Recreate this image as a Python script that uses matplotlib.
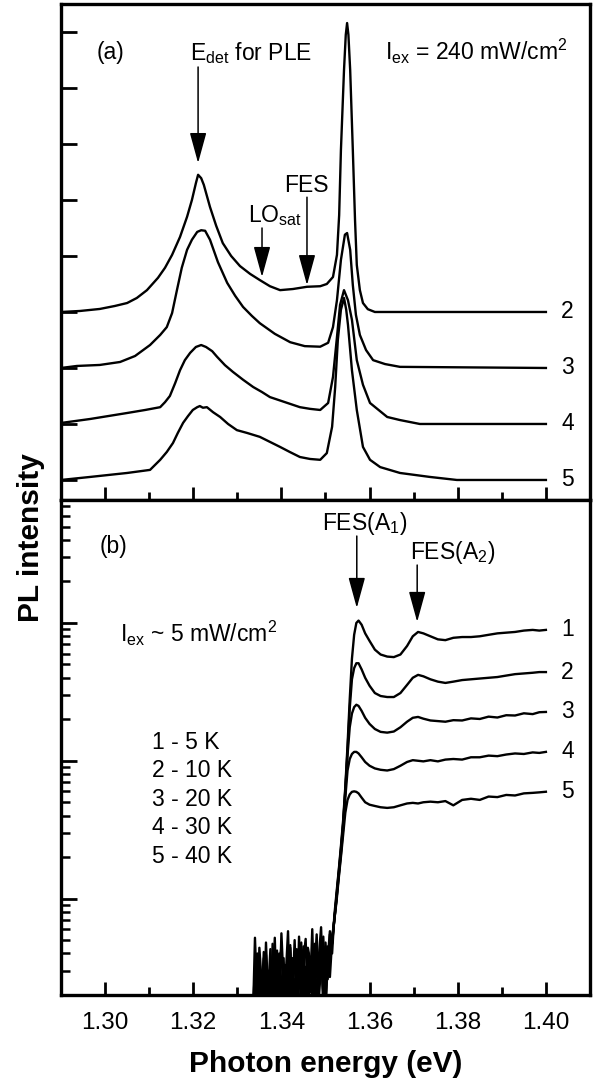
import matplotlib
matplotlib.use("Agg")
import matplotlib.pyplot as plt
from matplotlib.ticker import MultipleLocator, LogLocator, NullFormatter

plt.rcParams['font.family'] = ['Liberation Sans', 'DejaVu Sans']
plt.rcParams['mathtext.fontset'] = 'custom'
plt.rcParams['mathtext.rm'] = 'Liberation Sans'
plt.rcParams['mathtext.it'] = 'Liberation Sans:italic'
plt.rcParams['mathtext.bf'] = 'Liberation Sans:bold'

# ---- panel (a): PL spectra, I_ex = 240 mW/cm^2, offset by one unit each ----
a_labels = ['2', '3', '4', '5']
a_offsets = [3, 2, 1, 0]

a_x_2 = [1.2900, 1.2943, 1.2988, 1.3022, 1.3050, 1.3072, 1.3095, 1.3120, 1.3136, 1.3152,
         1.3170, 1.3186, 1.3197, 1.3206, 1.3211, 1.3218, 1.3224, 1.3238, 1.3252, 1.3267,
         1.3286, 1.3306, 1.3329, 1.3351, 1.3374, 1.3397, 1.3426, 1.3458, 1.3488, 1.3503,
         1.3517, 1.3526, 1.3531, 1.3535, 1.3542, 1.3546, 1.3549, 1.3552, 1.3556, 1.3562,
         1.3567, 1.3571, 1.3578, 1.3585, 1.3596, 1.3612, 1.4000]
a_y_2 = [0.0, 0.018, 0.054, 0.107, 0.16, 0.25, 0.39, 0.61, 0.79, 1.02,
         1.34, 1.70, 2.0, 2.30, 2.45, 2.39, 2.27, 1.875, 1.54, 1.23,
         1.0, 0.82, 0.68, 0.57, 0.46, 0.39, 0.41, 0.45, 0.46, 0.50,
         0.625, 1.02, 1.73, 2.89, 4.32, 4.95, 5.16, 4.95, 4.32, 2.89,
         1.64, 0.84, 0.39, 0.16, 0.05, 0.0, 0.0]

a_x_3 = [1.2900, 1.2936, 1.2988, 1.3034, 1.3068, 1.3102, 1.3125, 1.3140, 1.3152, 1.3163,
         1.3174, 1.3186, 1.3197, 1.3209, 1.3218, 1.3227, 1.3238, 1.3256, 1.3277, 1.3295,
         1.3313, 1.3333, 1.3351, 1.3385, 1.3420, 1.3453, 1.3488, 1.3506, 1.3517, 1.3526,
         1.3535, 1.3544, 1.3549, 1.3556, 1.3562, 1.3569, 1.3578, 1.3592, 1.3608, 1.3635,
         1.3669, 1.4000]
a_y_3 = [0.0, 0.036, 0.054, 0.107, 0.214, 0.41, 0.59, 0.73, 0.98, 1.39,
         1.79, 2.11, 2.29, 2.43, 2.46, 2.45, 2.29, 1.89, 1.52, 1.29,
         1.09, 0.93, 0.80, 0.61, 0.46, 0.39, 0.38, 0.45, 0.73, 1.21,
         1.93, 2.38, 2.41, 2.11, 1.48, 0.95, 0.59, 0.32, 0.14, 0.07,
         0.02, 0.0]

a_x_4 = [1.2900, 1.2966, 1.3050, 1.3091, 1.3125, 1.3136, 1.3147, 1.3159, 1.3170, 1.3181,
         1.3193, 1.3206, 1.3218, 1.3229, 1.3243, 1.3254, 1.3272, 1.3290, 1.3313, 1.3336,
         1.3356, 1.3374, 1.3408, 1.3442, 1.3465, 1.3488, 1.3506, 1.3517, 1.3526, 1.3533,
         1.3542, 1.3551, 1.3560, 1.3571, 1.3585, 1.3601, 1.3640, 1.3669, 1.3714, 1.4000]
a_y_4 = [0.018, 0.089, 0.196, 0.25, 0.30, 0.39, 0.50, 0.73, 0.96, 1.14,
         1.27, 1.375, 1.41, 1.375, 1.30, 1.20, 1.05, 0.93, 0.79, 0.66,
         0.57, 0.48, 0.39, 0.30, 0.27, 0.25, 0.375, 0.84, 1.55, 2.125,
         2.39, 2.21, 1.86, 1.14, 0.70, 0.375, 0.125, 0.07, 0.0, 0.0]

a_x_5 = [1.2900, 1.2966, 1.3050, 1.3102, 1.3125, 1.3140, 1.3154, 1.3165, 1.3177, 1.3188,
         1.3199, 1.3209, 1.3215, 1.3222, 1.3231, 1.3245, 1.3261, 1.3279, 1.3299, 1.3322,
         1.3351, 1.3374, 1.3397, 1.3419, 1.3442, 1.3465, 1.3488, 1.3503, 1.3515, 1.3522,
         1.3528, 1.3535, 1.3542, 1.3547, 1.3551, 1.3560, 1.3571, 1.3585, 1.3601, 1.3624,
         1.3669, 1.3737, 1.3798, 1.4000]
a_y_5 = [0.0, 0.054, 0.125, 0.18, 0.36, 0.5, 0.66, 0.84, 1.02, 1.14,
         1.25, 1.30, 1.32, 1.29, 1.30, 1.21, 1.125, 1.0, 0.89, 0.84,
         0.77, 0.68, 0.59, 0.5, 0.41, 0.375, 0.36, 0.48, 0.95, 1.66,
         2.5, 3.04, 3.25, 3.04, 2.77, 1.96, 1.25, 0.59, 0.36, 0.23,
         0.125, 0.054, 0.0, 0.0]

a_x = [a_x_2, a_x_3, a_x_4, a_x_5]
a_y = [a_y_2, a_y_3, a_y_4, a_y_5]

# ---- panel (b): PLE spectra (log scale), I_ex ~ 5 mW/cm^2 ----
b_labels = ['1', '2', '3', '4', '5']
temperatures = ['1 - 5 K', '2 - 10 K', '3 - 20 K', '4 - 30 K', '5 - 40 K']

noise_x = [1.3335, 1.3340, 1.3345, 1.3350, 1.3355, 1.3360, 1.3365, 1.3370, 1.3375, 1.3380,
           1.3385, 1.3390, 1.3395, 1.3400, 1.3405, 1.3410, 1.3415, 1.3420, 1.3425, 1.3430,
           1.3435, 1.3440, 1.3445, 1.3450, 1.3455, 1.3460, 1.3465, 1.3470, 1.3475, 1.3480,
           1.3485, 1.3490, 1.3495, 1.3500, 1.3505, 1.3510, 1.3515]
noise_1 = [0.12, 0.52, 0.18, 0.36, 0.14, 0.41, 0.22, 0.30, 0.12, 0.47, 0.20, 0.38, 0.15,
           0.56, 0.24, 0.33, 0.13, 0.44, 0.19, 0.50, 0.16, 0.35, 0.27, 0.45, 0.12, 0.39,
           0.21, 0.60, 0.17, 0.42, 0.23, 0.52, 0.15, 0.48, 0.26, 0.55, 0.40]
noise_2 = [0.15, 0.30, 0.12, 0.44, 0.25, 0.17, 0.39, 0.13, 0.33, 0.21, 0.52, 0.14, 0.31,
           0.45, 0.18, 0.28, 0.58, 0.16, 0.37, 0.12, 0.43, 0.29, 0.19, 0.36, 0.51, 0.14,
           0.32, 0.24, 0.47, 0.13, 0.38, 0.62, 0.20, 0.34, 0.45, 0.27, 0.50]
noise_3 = [0.11, 0.26, 0.40, 0.16, 0.29, 0.13, 0.48, 0.19, 0.27, 0.14, 0.34, 0.42, 0.17,
           0.23, 0.37, 0.12, 0.31, 0.46, 0.20, 0.26, 0.13, 0.53, 0.18, 0.29, 0.15, 0.44,
           0.36, 0.16, 0.28, 0.55, 0.19, 0.33, 0.41, 0.14, 0.36, 0.58, 0.47]
noise_4 = [0.13, 0.20, 0.33, 0.12, 0.24, 0.37, 0.16, 0.21, 0.43, 0.15, 0.26, 0.19, 0.40,
           0.13, 0.29, 0.22, 0.35, 0.14, 0.27, 0.39, 0.17, 0.23, 0.48, 0.12, 0.30, 0.20,
           0.38, 0.26, 0.15, 0.42, 0.24, 0.30, 0.53, 0.18, 0.37, 0.44, 0.52]
noise_5 = [0.12, 0.17, 0.28, 0.14, 0.22, 0.31, 0.13, 0.25, 0.19, 0.35, 0.14, 0.21, 0.27,
           0.16, 0.33, 0.12, 0.24, 0.30, 0.15, 0.20, 0.36, 0.13, 0.26, 0.18, 0.32, 0.14,
           0.29, 0.22, 0.40, 0.16, 0.27, 0.34, 0.21, 0.45, 0.28, 0.38, 0.48]

tail_x = [1.3520, 1.3525, 1.3530, 1.3535, 1.3540, 1.3545, 1.3550, 1.3555, 1.3560, 1.3565,
          1.3570, 1.3575, 1.3582, 1.3590, 1.3600, 1.3612, 1.3625, 1.3640, 1.3655, 1.3670,
          1.3685, 1.3698, 1.3710, 1.3722, 1.3738, 1.3755, 1.3772, 1.3790, 1.3810, 1.3830,
          1.3850, 1.3870, 1.3890, 1.3910, 1.3930, 1.3950, 1.3970, 1.3985, 1.4000]
tail_1 = [0.75, 1.1, 1.6, 2.4, 3.7, 6.5, 13, 28, 55, 82,
          100, 104, 97, 84, 74, 64, 59, 57, 56.5, 59,
          68, 80, 86, 84, 80, 76, 75, 78, 79, 79,
          80, 82, 84, 85, 86, 88, 89, 88, 89]
tail_2 = [0.7, 1.05, 1.55, 2.3, 3.5, 6.2, 12, 24, 39, 47,
          51, 51, 46, 40, 35, 31, 29.5, 29, 29, 31,
          35.5, 40, 42, 41, 39, 37.5, 36.7, 37.5, 38.5, 39,
          39.5, 40, 40.5, 41.5, 42.5, 43, 43.5, 44, 44]
tail_3 = [0.7, 1.0, 1.5, 2.2, 3.4, 6.0, 11, 17.5, 22, 24.5,
          25.5, 25, 23, 20.5, 18.5, 17, 16.2, 16, 16.3, 17.5,
          19.2, 20.5, 20.8, 20.2, 19.6, 19.4, 19.2, 19.7, 19.6, 20.3,
          20.1, 20.9, 20.6, 21.4, 21.3, 22.1, 21.8, 22.5, 22.6]
tail_4 = [0.7, 1.0, 1.45, 2.1, 3.2, 5.4, 8.5, 10.3, 11.2, 11.6,
          11.6, 11.3, 10.6, 9.8, 9.2, 8.8, 8.6, 8.5, 8.7, 9.2,
          9.8, 10.1, 10.0, 9.9, 10.1, 9.9, 10.2, 10.3, 10.2, 10.6,
          10.6, 10.9, 10.8, 11.1, 11.3, 11.2, 11.5, 11.4, 11.6]
tail_5 = [0.7, 0.95, 1.4, 2.0, 2.9, 4.2, 5.2, 5.7, 5.95, 6.0,
          5.95, 5.8, 5.4, 5.0, 4.8, 4.7, 4.6, 4.55, 4.6, 4.75,
          4.9, 4.95, 4.9, 5.0, 5.05, 5.0, 5.1, 4.75, 5.2, 5.3,
          5.2, 5.5, 5.45, 5.65, 5.6, 5.8, 5.85, 5.9, 5.96]

b_noise = [noise_1, noise_2, noise_3, noise_4, noise_5]
b_tail = [tail_1, tail_2, tail_3, tail_4, tail_5]

LW = 1.7
FS_TXT = 16.5
ARROW = dict(arrowstyle='-|>,head_length=1.9,head_width=0.52', mutation_scale=10,
             lw=1.1, color='k', shrinkA=0, shrinkB=0)

fig = plt.figure(figsize=(5.98, 10.81), dpi=100)
ax_a = fig.add_axes([0.1020, 0.5375, 0.8846, 0.4588])
ax_b = fig.add_axes([0.1020, 0.0796, 0.8846, 0.4579], sharex=ax_a)

# panel (a)
for xs, ys, off, lab in zip(a_x, a_y, a_offsets, a_labels):
    ax_a.plot(xs, [v + off for v in ys], color='k', lw=LW, solid_joinstyle='round')
    ax_a.text(1.4049, off, lab, fontsize=FS_TXT, ha='center', va='center')

ax_a.set_xlim(1.29, 1.41)
ax_a.set_ylim(-0.357, 8.5)
ax_a.yaxis.set_major_locator(MultipleLocator(1))

ax_a.text(0.068, 0.889, '(a)', transform=ax_a.transAxes, fontsize=FS_TXT)
ax_a.text(0.2439, 0.887, r'E$_{\rm det}$ for PLE', transform=ax_a.transAxes, fontsize=FS_TXT)
ax_a.text(0.6125, 0.887, r'I$_{\rm ex}$ = 240 mW/cm$^{2}$', transform=ax_a.transAxes, fontsize=FS_TXT)
ax_a.text(0.3535, 0.5605, r'LO$_{\rm sat}$', transform=ax_a.transAxes, fontsize=FS_TXT)
ax_a.text(0.464, 0.621, 'FES', transform=ax_a.transAxes, fontsize=FS_TXT, ha='center')

ax_a.annotate('', xy=(1.3211, 5.66), xytext=(1.3211, 7.375), arrowprops=ARROW)
ax_a.annotate('', xy=(1.3356, 3.625), xytext=(1.3356, 4.5), arrowprops=ARROW)
ax_a.annotate('', xy=(1.3458, 3.48), xytext=(1.3458, 5.05), arrowprops=ARROW)

# panel (b)
for nz, tl, lab in zip(b_noise, b_tail, b_labels):
    ax_b.plot(noise_x + tail_x, nz + tl, color='k', lw=LW, solid_joinstyle='round')
    ax_b.text(1.4049, tl[-1], lab, fontsize=FS_TXT, ha='center', va='center')

ax_b.set_yscale('log')
ax_b.set_ylim(0.2, 780)
ax_b.yaxis.set_major_locator(LogLocator(base=10, numticks=10))
ax_b.yaxis.set_minor_locator(LogLocator(base=10, subs=range(2, 10), numticks=20))
ax_b.yaxis.set_major_formatter(NullFormatter())
ax_b.yaxis.set_minor_formatter(NullFormatter())

ax_b.text(0.0737, 0.893, '(b)', transform=ax_b.transAxes, fontsize=FS_TXT)
ax_b.text(0.1115, 0.713, r'I$_{\rm ex}$ ~ 5 mW/cm$^{2}$', transform=ax_b.transAxes, fontsize=FS_TXT)
for i, t in enumerate(temperatures):
    ax_b.text(0.172, 0.497 - i * 0.0576, t, transform=ax_b.transAxes, fontsize=FS_TXT)
ax_b.text(0.4934, 0.939, r'FES(A$_{1}$)', transform=ax_b.transAxes, fontsize=FS_TXT)
ax_b.text(0.660, 0.880, r'FES(A$_{2}$)', transform=ax_b.transAxes, fontsize=FS_TXT)

ax_b.annotate('', xy=(1.3571, 128.5), xytext=(1.3571, 427), arrowprops=ARROW)
ax_b.annotate('', xy=(1.3708, 101.7), xytext=(1.3708, 263), arrowprops=ARROW)

# axes styling
for ax in (ax_a, ax_b):
    for sp in ax.spines.values():
        sp.set_linewidth(2.4)
    ax.xaxis.set_major_locator(MultipleLocator(0.02))
    ax.xaxis.set_minor_locator(MultipleLocator(0.01))
    ax.tick_params(axis='x', which='major', direction='in', length=9.5, width=2,
                   top=False, bottom=True, labelsize=17.5, pad=12)
    ax.tick_params(axis='x', which='minor', direction='in', length=5.5, width=2,
                   top=False, bottom=True)
    ax.tick_params(axis='y', which='major', direction='in', length=11.5, width=2,
                   left=True, right=False, labelleft=False)
    ax.tick_params(axis='y', which='minor', direction='in', length=6.5, width=1.8,
                   left=True, right=False, labelleft=False)

ax_a.tick_params(axis='x', labelbottom=False)
ax_b.xaxis.set_major_formatter(plt.FuncFormatter(lambda v, p: f'{v:.2f}'))

fig.text(0.5445, 1 - 1072 / 1081, 'Photon energy (eV)', ha='center', va='baseline',
         fontsize=21.5, fontweight='bold')
fig.text(0.052, 0.503, 'PL intensity', rotation=90, ha='center', va='center',
         fontsize=21.5, fontweight='bold')

fig.savefig('out.png', dpi=100)
